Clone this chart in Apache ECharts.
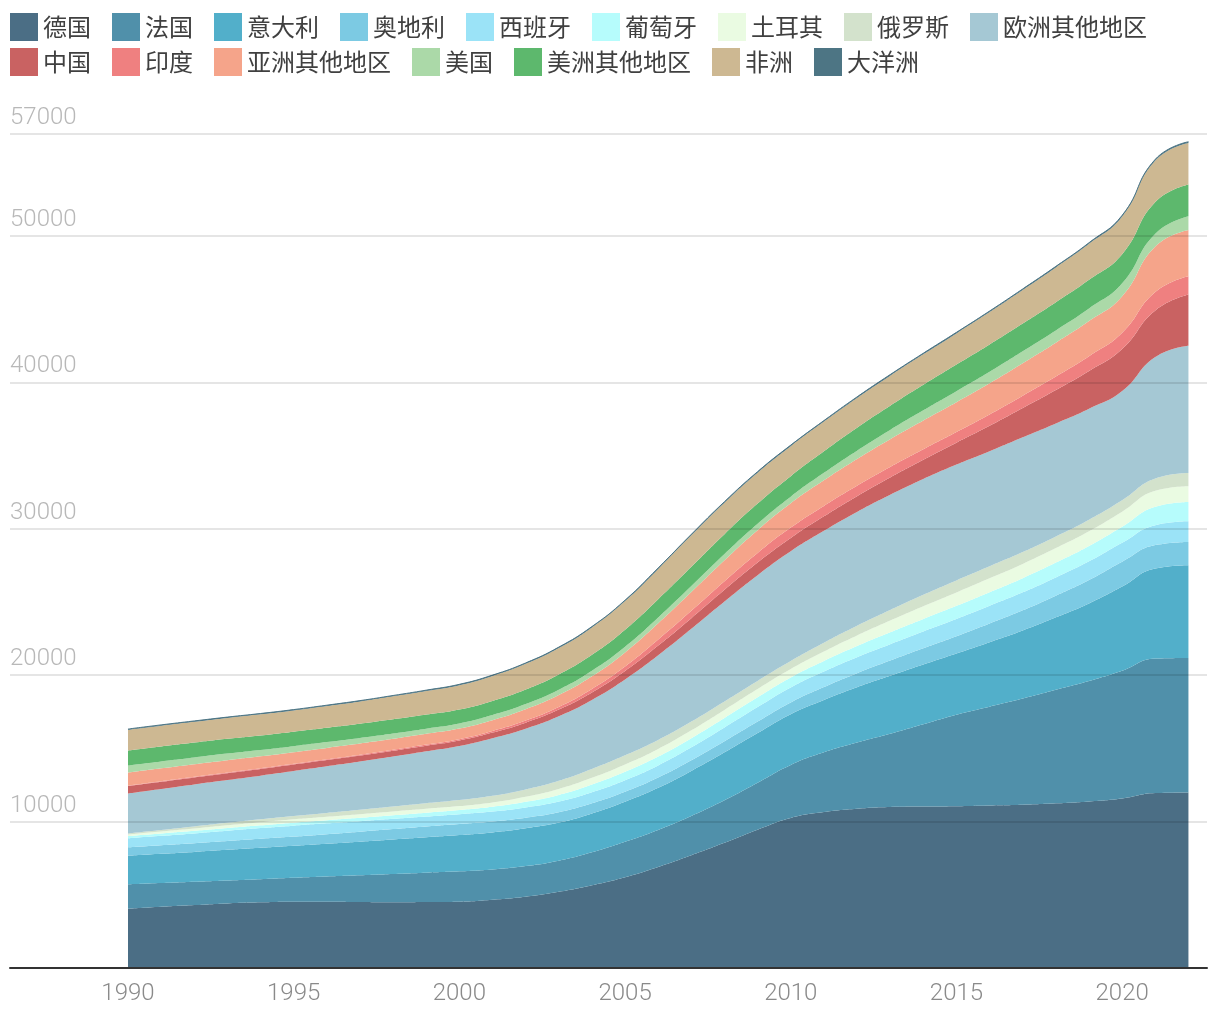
<!DOCTYPE html>
<html>
<head>
<meta charset="utf-8">
<script src="https://cdn.jsdelivr.net/npm/echarts@6/dist/echarts.min.js"></script>
<style>
html,body{margin:0;padding:0;background:#fff;}
#chart{width:1220px;height:1020px;}
</style>
</head>
<body>
<div id="chart"></div>
<script>
// ---------- data ----------
const years = [1990,1991,1992,1993,1994,1995,1996,1997,1998,1999,2000,2001,2002,2003,2004,2005,2006,2007,2008,2009,2010,2011,2012,2013,2014,2015,2016,2017,2018,2019,2020,2021,2022];
const xTickLabels = [1990,1995,2000,2005,2010,2015,2020];
const yTickLabels = [10000,20000,30000,40000,50000,57000];

const germany   = [4048,4185,4300,4414,4484,4526,4526,4505,4484,4505,4530,4662,4867,5200,5650,6200,6900,7700,8550,9450,10250,10650,10880,11000,11030,11050,11100,11150,11250,11380,11580,11945,11993];
const france    = [1665,1615,1590,1566,1586,1638,1724,1825,1936,2005,2070,2068,2093,2130,2250,2420,2530,2680,2900,3200,3620,4080,4520,5000,5620,6250,6750,7250,7750,8220,8720,9191,9189];
const italy     = [1953,2000,2040,2090,2140,2185,2240,2300,2360,2420,2480,2530,2580,2600,2660,2740,2880,3080,3280,3400,3470,3580,3780,3960,4080,4180,4400,4650,4950,5300,5750,6150,6330];
const austria   = [573,585,595,605,615,625,650,680,710,740,760,750,730,710,690,680,700,730,760,780,800,880,960,1040,1110,1180,1280,1380,1480,1600,1700,1600,1591];
const spain     = [614,640,670,700,730,750,740,720,700,680,670,680,700,730,760,790,830,880,940,990,1020,1060,1090,1120,1150,1180,1210,1230,1250,1275,1300,1364,1412];
const portugal  = [157,165,175,185,195,205,215,230,245,260,280,320,380,450,520,570,600,630,650,670,685,720,760,810,850,895,930,970,1010,1050,1090,1250,1318];
const turkey    = [116,140,165,190,210,230,240,250,258,265,270,300,350,410,460,500,520,535,550,560,570,640,720,800,870,920,950,970,990,1005,1025,1092,1071];
const russia    = [68,100,135,170,200,225,260,300,340,380,410,450,500,560,610,630,620,600,580,560,550,600,660,720,780,820,820,810,800,795,790,846,909];
const otherEurope = [2730,2800,2870,2920,2980,3070,3180,3290,3410,3550,3700,3940,4150,4410,4710,5180,5780,6330,6820,7220,7500,7650,7780,7870,7910,7910,7860,7840,7720,7580,7450,8290,8690];
const china     = [498,488,475,462,450,440,425,410,395,380,370,380,410,450,510,575,660,730,800,860,905,990,1080,1190,1320,1500,1735,2000,2285,2580,2880,3190,3500];
const india     = [30,35,40,45,48,50,55,60,68,78,90,110,140,180,240,305,410,500,590,660,710,715,712,710,710,720,775,840,915,1000,1100,1250,1250];
const otherAsia = [900,890,870,850,820,800,780,760,745,735,730,740,770,810,860,960,1110,1280,1430,1555,1660,1745,1825,1900,1970,2040,2130,2220,2310,2400,2500,3120,3164];
const usa       = [478,470,460,450,430,410,395,380,365,350,340,345,355,365,378,390,400,410,425,440,455,510,570,630,690,750,780,810,840,860,880,865,933];
const otherAmericas = [1024,1018,1010,1005,998,990,983,975,968,960,956,970,1000,1050,1100,1170,1250,1320,1360,1380,1400,1470,1560,1650,1740,1820,1870,1900,1930,1960,1990,2161,2164];
const africa    = [1413,1420,1425,1430,1440,1450,1480,1520,1570,1610,1660,1700,1750,1800,1860,1950,2070,2150,2150,2110,2050,2030,2040,2060,2090,2130,2210,2290,2370,2460,2580,2847,2845];
const oceania   = [55,55,56,56,57,57,58,58,59,60,60,61,62,63,64,65,66,67,68,69,70,70,71,72,72,73,74,74,75,76,77,78,79];

const seriesNames = ['德国','法国','意大利','奥地利','西班牙','葡萄牙','土耳其','俄罗斯','欧洲其他地区','中国','印度','亚洲其他地区','美国','美洲其他地区','非洲','大洋洲'];
const seriesValues = [germany,france,italy,austria,spain,portugal,turkey,russia,otherEurope,china,india,otherAsia,usa,otherAmericas,africa,oceania];

// ---------- styles ----------
const palette = ['#4b6e85','#5090aa','#52afca','#7ccae3','#9be3f7','#b6fcfc','#eafbe2','#d3e2cc','#a5c8d4','#c96262','#ef8080','#f5a48a','#abd9a8','#5db86d','#cdb892','#4d7584'];
const numFont = 'Roboto, "Noto Sans", "DejaVu Sans", sans-serif';
const cjkFont = '"Noto Sans CJK SC", "Noto Sans", sans-serif';

// value first, year second: the value dimension is the one that gets stacked
const series = seriesNames.map((name, i) => ({
  name: name,
  type: 'line',
  stack: 'total',
  smooth: true,
  showSymbol: false,
  symbol: 'none',
  color: palette[i],
  encode: { x: 1, y: 0 },
  lineStyle: i === seriesNames.length - 1 ? { width: 1, color: palette[i] } : { width: 0 },
  areaStyle: { color: palette[i], opacity: 1 },
  emphasis: { disabled: true },
  data: years.map((y, k) => [seriesValues[i][k], y])
}));

const legendCommon = {
  left: 10,
  padding: 0,
  icon: 'rect',
  itemWidth: 28,
  itemHeight: 28,
  itemGap: 21,
  selectedMode: false,
  textStyle: { fontSize: 24, color: '#404040', fontFamily: cjkFont }
};

const option = {
  animation: false,
  backgroundColor: '#fff',
  legend: [
    Object.assign({}, legendCommon, { top: 13, data: seriesNames.slice(0, 9) }),
    Object.assign({}, legendCommon, { top: 48, data: seriesNames.slice(9) })
  ],
  grid: { left: 10, right: 13, top: 133.5, bottom: 52, containLabel: false },
  xAxis: {
    type: 'value',
    min: 1986.44,
    max: 2022.56,
    z: 10,
    axisLine: { show: true, lineStyle: { color: '#333', width: 2 } },
    axisTick: { show: false },
    splitLine: { show: false },
    axisLabel: {
      customValues: xTickLabels,
      margin: 14,
      fontSize: 24,
      fontWeight: 300,
      color: '#8a8a8a',
      fontFamily: numFont,
      formatter: v => String(v)
    }
  },
  yAxis: {
    type: 'value',
    min: 0,
    max: 57000,
    interval: 10000,
    z: 10,
    axisLine: { show: false },
    axisTick: { show: false },
    splitLine: { show: true, lineStyle: { color: 'rgba(0,0,0,0.1)', width: 2 } },
    axisLabel: {
      customValues: yTickLabels,
      inside: true,
      margin: 0,
      align: 'left',
      verticalAlign: 'bottom',
      padding: [0, 0, 4, 0],
      fontSize: 24,
      fontWeight: 300,
      color: '#b8b8b8',
      fontFamily: numFont,
      formatter: v => String(v)
    }
  },
  series: series
};

const chart = echarts.init(document.getElementById('chart'), null, { renderer: 'canvas' });
chart.setOption(option);
</script>
</body>
</html>
